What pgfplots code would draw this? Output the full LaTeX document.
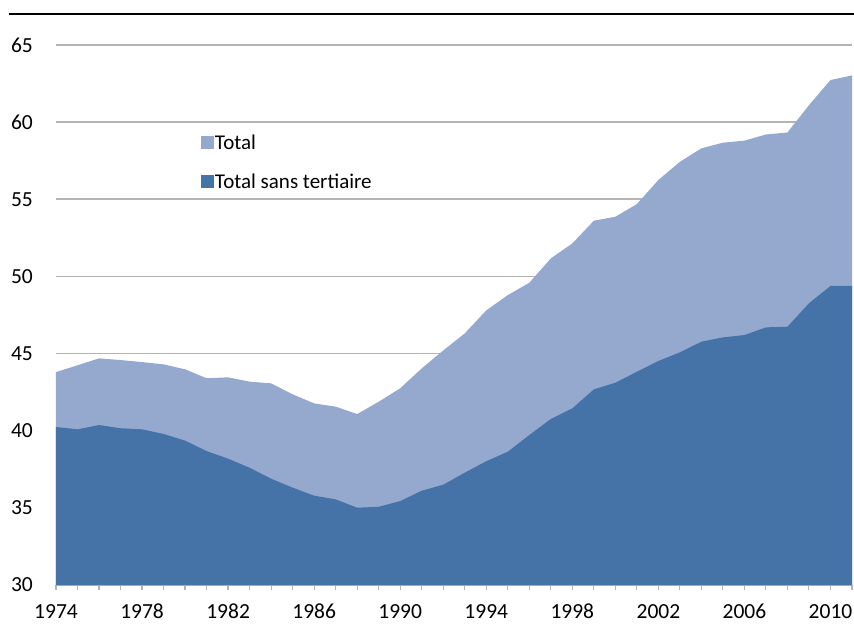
\documentclass[border=0pt]{standalone}
\usepackage{fontspec}
\setmainfont{Carlito}
\usepackage{pgfplots}
\pgfplotsset{compat=1.18}
\usepackage{pgfplotstable}
\definecolor{lightb}{HTML}{95A9CF}
\definecolor{darkb}{HTML}{4573A7}
\definecolor{gridg}{HTML}{B4B4B4}
\pgfplotstableread{
year total sans
1974 43.80 40.24
1975 44.24 40.09
1976 44.69 40.37
1977 44.58 40.16
1978 44.45 40.09
1979 44.30 39.79
1980 43.98 39.36
1981 43.40 38.68
1982 43.46 38.19
1983 43.18 37.60
1984 43.07 36.89
1985 42.36 36.31
1986 41.77 35.79
1987 41.56 35.55
1988 41.08 35.01
1989 41.88 35.07
1990 42.75 35.44
1991 44.04 36.11
1992 45.20 36.50
1993 46.31 37.28
1994 47.80 38.02
1995 48.79 38.64
1996 49.59 39.72
1997 51.17 40.76
1998 52.14 41.45
1999 53.61 42.68
2000 53.87 43.11
2001 54.69 43.82
2002 56.25 44.52
2003 57.43 45.08
2004 58.30 45.77
2005 58.67 46.05
2006 58.80 46.20
2007 59.20 46.70
2008 59.33 46.74
2009 61.10 48.26
2010 62.73 49.38
2011 63.03 49.38
}\datatable
\begin{document}
\begin{tikzpicture}[x=1pt,y=1pt]
\path[use as bounding box] (-56,-40) rectangle (798,585);
\draw[line width=2pt, black] (-47,571.3) -- (798,571.3);
\begin{axis}[
  at={(0,0)}, anchor=origin,
  scale only axis, width=796pt, height=540pt,
  xmin=1974, xmax=2011, ymin=30, ymax=65,
  ytick={30,35,...,65},
  xtick={1974,1978,...,2010},
  minor xtick={1974,...,2011},
  axis x line*=bottom, axis y line*=left,
  y axis line style={draw=none},
  x axis line style={draw=gridg, line width=1.2pt, -},
  tick align=outside,
  major tick length=5pt, minor tick length=5pt,
  xtick style={draw=gridg, line width=1.2pt},
  minor x tick style={draw=gridg, line width=1.2pt},
  ytick style={draw=none},
  ymajorgrids, grid style={draw=gridg, line width=1.6pt},
  /pgf/number format/assume math mode=true,
  /pgf/number format/1000 sep={},
  ticklabel style={font=\fontsize{21.5}{25}\selectfont},
  yticklabel style={inner sep=0pt, xshift=-18pt},
  xticklabel style={inner sep=0pt, yshift=-14pt},
  legend style={at={(0.178,0.84)}, anchor=north west, draw=none, fill=none,
    font=\fontsize{21}{25}\selectfont, row sep=21pt,
    nodes={inner sep=1pt}},
  legend cell align=left,
  legend image code/.code={\fill[#1] (0pt,-6.5pt) rectangle (13pt,6.5pt);},
]
\addplot[fill=lightb, draw=none] table[x=year,y=total]{\datatable} \closedcycle;
\addlegendentry{Total}
\addplot[fill=darkb, draw=none] table[x=year,y=sans]{\datatable} \closedcycle;
\addlegendentry{Total sans tertiaire}
\end{axis}
\end{tikzpicture}
\end{document}
